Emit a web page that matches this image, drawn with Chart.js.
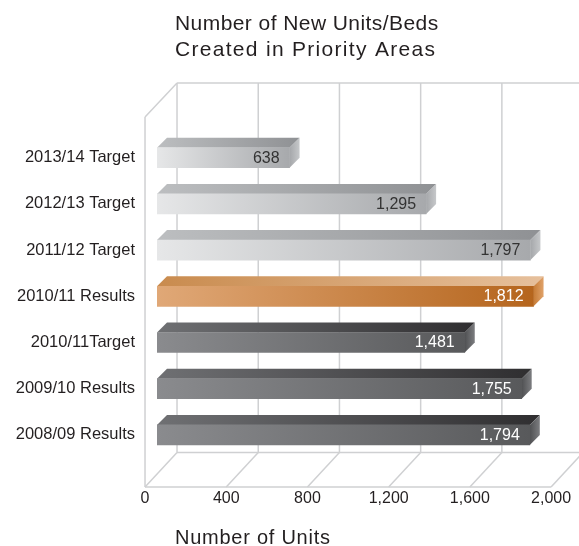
<!DOCTYPE html>
<html>
<head>
<meta charset="utf-8">
<style>
html, body { margin: 0; padding: 0; background: #fff; }
#wrap { position: relative; width: 579px; height: 546px; }
</style>
<script src="https://cdn.jsdelivr.net/npm/chart.js@4"></script>
</head>
<body>
<div id="wrap"><canvas id="c" width="579" height="546"></canvas></div>
<script>
const categories = ['2013/14 Target', '2012/13 Target', '2011/12 Target', '2010/11 Results', '2010/11Target', '2009/10 Results', '2008/09 Results'];
const units = [638, 1295, 1797, 1812, 1481, 1755, 1794];
const axisTicks = [0, 400, 800, 1200, 1600, 2000];
const titleLines = ['Number of New Units/Beds', 'Created in Priority Areas'];
const titleTracking = [0.43, 1.3];
const axisCaption = 'Number of Units';

const FONT = '"Liberation Sans", Arial, sans-serif';
const INK = '#231f20';
const DEPTH = 10;

// Face colours per bar family: front start/end, top start/end, side left/right.
const light = { front: ['#e6e7e8', '#a7a9ac'], top: ['#bcbec0', '#8f9194'], side: ['#a5a7aa', '#c6c8ca'], text: '#333333' };
const orange = { front: ['#e0a877', '#b5651d'], top: ['#c98b4e', '#e6c09c'], side: ['#c67c36', '#e0a26a'], text: '#ffffff' };
const dark = { front: ['#8a8b8e', '#58595b'], top: ['#6f7073', '#2f2e30'], side: ['#505153', '#7c7d80'], text: '#ffffff' };
const families = [light, light, light, orange, dark, dark, dark];

function hGradient(ctx, x0, x1, stops) {
  const g = ctx.createLinearGradient(x0, 0, x1, 0);
  g.addColorStop(0, stops[0]);
  g.addColorStop(1, stops[1]);
  return g;
}

function poly(ctx, pts, fill) {
  ctx.beginPath();
  pts.forEach((p, i) => i ? ctx.lineTo(p[0], p[1]) : ctx.moveTo(p[0], p[1]));
  ctx.closePath();
  ctx.fillStyle = fill;
  ctx.fill();
}

// Perspective box behind the bars: back wall, left wall and floor.
const wallPlugin = {
  id: 'wall',
  beforeDatasetsDraw(chart) {
    const { ctx } = chart;
    const s = chart.scales.xWall;
    const dx = 32, backTop = 83, backFloor = 452.5, frontTop = 117, frontFloor = 487;
    ctx.save();
    ctx.strokeStyle = '#cfd0d2';
    ctx.lineWidth = 1.5;
    const line = (a, b, c, d) => { ctx.beginPath(); ctx.moveTo(a, b); ctx.lineTo(c, d); ctx.stroke(); };
    const x0 = s.getPixelForValue(axisTicks[0]);
    const xN = s.getPixelForValue(axisTicks[axisTicks.length - 1]);
    line(x0, frontTop, x0, frontFloor);
    line(x0, frontTop, x0 + dx, backTop);
    line(x0 + dx, backTop, xN + dx, backTop);
    line(x0, frontFloor, xN, frontFloor);
    line(x0 + dx, backFloor, xN + dx, backFloor);
    axisTicks.forEach(t => {
      const x = s.getPixelForValue(t);
      line(x, frontFloor, x + dx, backFloor);
      line(x + dx, backTop, x + dx, backFloor);
    });
    ctx.restore();
  }
};

// Top and side faces of each bar, worked out from the bar element itself.
const facesPlugin = {
  id: 'faces',
  beforeDatasetsDraw(chart) {
    const { ctx } = chart;
    const meta = chart.getDatasetMeta(0);
    meta.data.forEach((bar, i) => {
      const f = families[i];
      const h = bar.height / 2, top = bar.y - h, bot = bar.y + h, l = bar.base, r = bar.x;
      poly(ctx, [[l, top], [l + DEPTH, top - DEPTH], [r + DEPTH, top - DEPTH], [r, top]], hGradient(ctx, l, r + DEPTH, f.top));
      poly(ctx, [[r, top], [r + DEPTH, top - DEPTH], [r + DEPTH, bot - DEPTH], [r, bot]], hGradient(ctx, r, r + DEPTH, f.side));
    });
  },
  afterDatasetsDraw(chart) {
    const { ctx } = chart;
    const meta = chart.getDatasetMeta(0);
    ctx.save();
    ctx.font = '16px ' + FONT;
    ctx.textAlign = 'right';
    ctx.textBaseline = 'middle';
    meta.data.forEach((bar, i) => {
      ctx.fillStyle = families[i].text;
      ctx.fillText(units[i].toLocaleString('en-US'), bar.x - 10, bar.y + 0.5);
    });
    ctx.restore();
  }
};

// Heading above the plot and caption under the axis.
const captionPlugin = {
  id: 'captions',
  afterDraw(chart) {
    const { ctx } = chart;
    ctx.save();
    ctx.fillStyle = INK;
    ctx.textAlign = 'left';
    ctx.textBaseline = 'alphabetic';
    ctx.font = '21px ' + FONT;
    titleLines.forEach((t, i) => {
      ctx.letterSpacing = titleTracking[i] + 'px';
      ctx.fillText(t, 175, 30 + i * 26);
    });
    ctx.font = '20px ' + FONT;
    ctx.letterSpacing = '0.75px';
    ctx.fillText(axisCaption, 175, 544);
    ctx.restore();
  }
};

new Chart(document.getElementById('c'), {
  type: 'bar',
  data: {
    labels: categories,
    datasets: [{
      data: units,
      xAxisID: 'x',
      yAxisID: 'y',
      barThickness: 20,
      borderWidth: 0,
      backgroundColor(c) {
        if (!c.chart.chartArea) return '#999';
        const x0 = c.chart.scales.x.getPixelForValue(0);
        const x1 = c.chart.scales.x.getPixelForValue(units[c.dataIndex]);
        return hGradient(c.chart.ctx, x0, x1, families[c.dataIndex].front);
      }
    }]
  },
  plugins: [wallPlugin, facesPlugin, captionPlugin],
  options: {
    indexAxis: 'y',
    responsive: false,
    animation: false,
    layout: { padding: { top: 134.6, right: 6.4, bottom: 0, left: 0 } },
    plugins: { legend: { display: false }, tooltip: { enabled: false }, title: { display: false } },
    scales: {
      x: { type: 'linear', min: 0, max: 2000, display: false },
      // Axis of the front floor edge: its ticks carry the printed labels.
      xWall: {
        type: 'linear', position: 'bottom', axis: 'x',
        min: 59, max: 2106,
        afterBuildTicks(s) { s.ticks = axisTicks.map(v => ({ value: v })); },
        afterFit(s) { s.height = 546 - 458; s.paddingLeft = 0; s.paddingRight = 0; },
        grid: { display: false },
        border: { display: false },
        ticks: {
          autoSkip: false, maxRotation: 0, padding: 23,
          color: INK,
          font: { family: FONT, size: 16 },
          callback: v => Number(v).toLocaleString('en-US')
        }
      },
      y: {
        type: 'category',
        afterFit(s) { s.width = 157; s.paddingTop = 0; s.paddingBottom = 0; },
        grid: { display: false },
        border: { display: false },
        ticks: {
          padding: 14,
          color: INK,
          font: { family: FONT, size: 16.5 }
        }
      }
    }
  }
});
</script>
</body>
</html>
